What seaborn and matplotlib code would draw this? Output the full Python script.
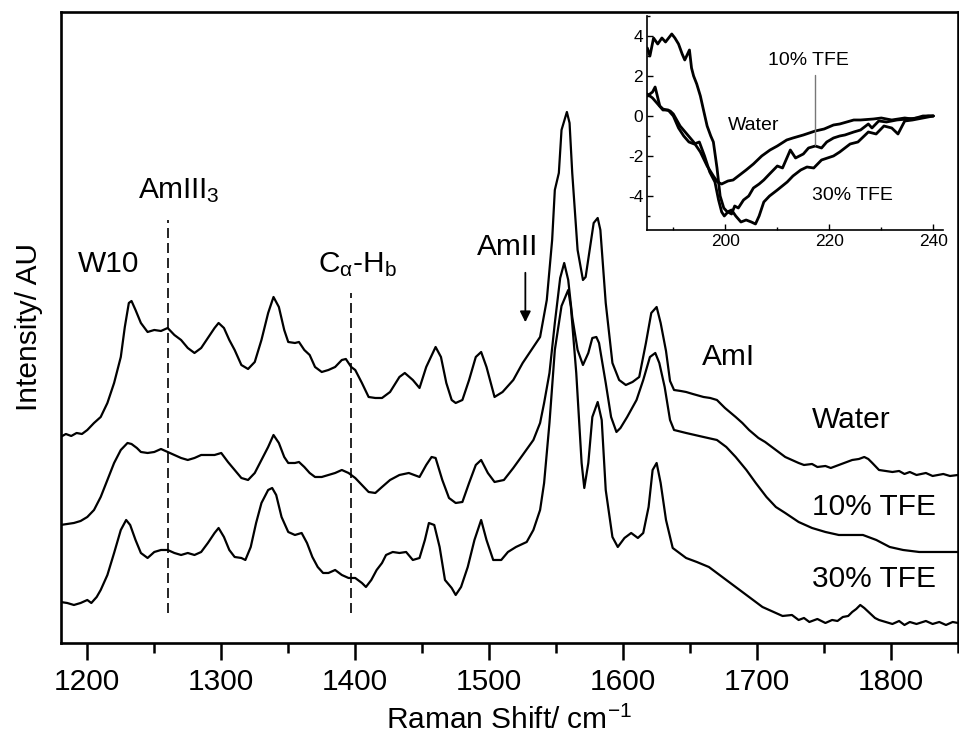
import matplotlib
matplotlib.use("Agg")
import matplotlib.pyplot as plt
from matplotlib.ticker import MultipleLocator
import seaborn as sns
import pandas as pd

# ---------------- Raman spectra (shift in cm^-1, stacked intensity in AU) ----------------
WATER = [
    (1180, 206), (1184, 209), (1188, 207), (1192, 210), (1196, 209), (1200, 213), (1205, 220),
    (1210, 226), (1215, 240), (1220, 260), (1225, 286), (1228, 316), (1231, 340), (1233, 342),
    (1236, 333), (1240, 320), (1245, 311), (1250, 313), (1255, 312), (1260, 315), (1265, 308),
    (1270, 303), (1275, 295), (1280, 290), (1285, 295), (1290, 305), (1295, 315), (1298, 320),
    (1302, 315), (1306, 303), (1310, 293), (1315, 278), (1320, 274), (1325, 281), (1330, 303),
    (1335, 330), (1339, 346), (1343, 336), (1347, 313), (1350, 301), (1355, 300), (1358, 301),
    (1362, 293), (1366, 288), (1370, 276), (1375, 271), (1380, 273), (1385, 276), (1390, 283),
    (1393, 284), (1397, 276), (1400, 273), (1405, 260), (1410, 246), (1415, 245), (1420, 245),
    (1426, 251), (1433, 266), (1437, 270), (1443, 263), (1448, 255), (1453, 276), (1460, 296),
    (1464, 286), (1468, 260), (1472, 243), (1475, 240), (1480, 243), (1485, 263), (1490, 286),
    (1494, 291), (1498, 276), (1504, 246), (1510, 251), (1518, 263), (1525, 280), (1533, 296),
    (1538, 306), (1543, 343), (1547, 403), (1549, 453), (1552, 470), (1554, 513), (1558, 531),
    (1560, 520), (1562, 470), (1566, 393), (1570, 363), (1572, 366), (1575, 393), (1578, 420),
    (1581, 425), (1583, 413), (1587, 340), (1592, 280), (1597, 263), (1602, 258), (1607, 261),
    (1612, 266), (1617, 300), (1621, 330), (1625, 336), (1628, 320), (1632, 292), (1635, 262),
    (1638, 253), (1643, 252), (1647, 251), (1652, 249), (1660, 246), (1665, 245), (1670, 243),
    (1676, 235), (1684, 226), (1689, 220), (1694, 213), (1701, 205), (1706, 201), (1711, 196),
    (1716, 191), (1721, 186), (1726, 183), (1731, 180), (1735, 178), (1741, 179), (1745, 176),
    (1751, 177), (1755, 175), (1761, 178), (1765, 180), (1771, 183), (1776, 184), (1780, 186),
    (1783, 184), (1786, 180), (1791, 173), (1796, 172), (1801, 171), (1806, 172), (1810, 169),
    (1814, 171), (1819, 168), (1826, 170), (1831, 167), (1839, 169), (1844, 167), (1850, 168),
]

TFE10 = [
    (1180, 118), (1185, 119), (1190, 120), (1195, 122), (1200, 126), (1205, 133), (1210, 146),
    (1215, 163), (1220, 180), (1225, 193), (1230, 200), (1233, 199), (1237, 195), (1240, 191),
    (1245, 190), (1250, 191), (1255, 194), (1260, 191), (1265, 188), (1270, 185), (1275, 183),
    (1280, 185), (1285, 188), (1290, 188), (1295, 188), (1300, 190), (1305, 181), (1310, 173),
    (1315, 165), (1320, 163), (1325, 170), (1330, 183), (1335, 196), (1339, 208), (1343, 200),
    (1347, 186), (1350, 180), (1355, 180), (1358, 181), (1362, 176), (1366, 170), (1370, 166),
    (1375, 166), (1380, 168), (1385, 170), (1390, 173), (1395, 170), (1400, 165), (1405, 158),
    (1410, 151), (1415, 150), (1420, 156), (1426, 163), (1433, 168), (1440, 170), (1448, 166),
    (1453, 178), (1457, 186), (1460, 185), (1465, 163), (1470, 145), (1475, 140), (1480, 141),
    (1485, 160), (1490, 178), (1494, 183), (1499, 170), (1504, 161), (1511, 163), (1518, 175),
    (1525, 188), (1533, 203), (1538, 220), (1541, 240), (1545, 270), (1549, 320), (1553, 365),
    (1556, 380), (1559, 363), (1562, 326), (1566, 293), (1570, 278), (1574, 290), (1577, 305),
    (1580, 306), (1582, 300), (1587, 260), (1591, 226), (1595, 211), (1598, 215), (1603, 226),
    (1610, 243), (1615, 263), (1620, 286), (1624, 290), (1627, 280), (1631, 256), (1635, 223),
    (1638, 213), (1647, 210), (1660, 206), (1670, 203), (1677, 196), (1684, 186), (1692, 173),
    (1699, 160), (1707, 146), (1714, 136), (1721, 130), (1731, 121), (1741, 115), (1751, 111),
    (1761, 108), (1771, 108), (1779, 108), (1789, 103), (1799, 96), (1809, 93), (1821, 91),
    (1834, 91), (1850, 91),
]

TFE30 = [
    (1180, 41), (1185, 40), (1190, 38), (1195, 40), (1200, 43), (1203, 40), (1207, 46),
    (1210, 53), (1215, 68), (1220, 90), (1225, 113), (1229, 123), (1232, 118), (1236, 103),
    (1240, 90), (1245, 85), (1250, 91), (1255, 93), (1260, 93), (1265, 90), (1270, 88),
    (1275, 90), (1280, 88), (1285, 91), (1290, 100), (1295, 110), (1298, 115), (1302, 106),
    (1306, 93), (1310, 86), (1315, 85), (1318, 83), (1322, 96), (1326, 120), (1330, 140),
    (1335, 153), (1338, 155), (1341, 148), (1345, 126), (1350, 111), (1355, 108), (1360, 110),
    (1364, 100), (1368, 86), (1372, 76), (1376, 70), (1380, 70), (1385, 73), (1390, 68),
    (1395, 65), (1400, 65), (1405, 60), (1408, 56), (1412, 63), (1416, 73), (1420, 80),
    (1423, 88), (1428, 91), (1433, 90), (1438, 91), (1443, 83), (1448, 85), (1452, 103),
    (1455, 120), (1459, 118), (1463, 96), (1467, 63), (1472, 55), (1475, 48), (1479, 56),
    (1484, 76), (1489, 103), (1494, 123), (1498, 103), (1503, 83), (1509, 83), (1514, 91),
    (1520, 96), (1528, 101), (1533, 113), (1538, 133), (1541, 160), (1545, 220), (1549, 293),
    (1554, 337), (1559, 353), (1561, 336), (1565, 270), (1569, 180), (1571, 155), (1574, 180),
    (1577, 226), (1581, 241), (1584, 223), (1587, 153), (1592, 106), (1596, 96), (1601, 105),
    (1606, 110), (1611, 105), (1615, 110), (1619, 136), (1622, 173), (1625, 180), (1628, 160),
    (1632, 123), (1637, 95), (1641, 91), (1647, 85), (1655, 81), (1664, 76), (1674, 66),
    (1684, 56), (1694, 46), (1704, 36), (1714, 30), (1719, 27), (1726, 28), (1731, 23),
    (1735, 25), (1739, 21), (1745, 24), (1751, 20), (1756, 23), (1760, 22), (1764, 26),
    (1768, 27), (1771, 31), (1774, 34), (1777, 38), (1780, 35), (1784, 30), (1788, 25),
    (1791, 23), (1796, 21), (1801, 19), (1806, 22), (1810, 18), (1814, 21), (1819, 19),
    (1826, 22), (1831, 19), (1836, 21), (1841, 18), (1846, 21), (1850, 20),
]

SPECTRA_LABELS = ["Water", "10% TFE", "30% TFE"]
X_TICKS = [1200, 1300, 1400, 1500, 1600, 1700, 1800]

# ---------------- CD spectra for the inset (wavelength in nm, ellipticity) ----------------
CD_WATER = [
    (185, 1.0), (186, 1.2), (186.5, 1.45), (187.4, 0.5), (188, 0.35), (189.4, 0.25), (190, 0.1),
    (191.3, -0.5), (192.6, -0.9), (193.9, -1.3), (195.2, -1.8), (196.5, -2.5), (197.7, -3.0),
    (198.5, -3.3), (199.3, -3.4), (200.5, -3.25), (201.5, -3.2), (203, -2.9), (204, -2.7),
    (205.4, -2.4), (207, -2.0), (208.6, -1.7), (210, -1.5), (211.8, -1.2), (213, -1.1),
    (215, -0.95), (217.3, -0.75), (219, -0.65), (220.8, -0.45), (222, -0.4), (224.7, -0.2),
    (226, -0.2), (228.5, -0.15), (230, -0.1), (232, -0.2), (234.5, -0.1), (236, -0.15),
    (238, 0.0), (240, 0.0),
]
CD_TFE10 = [
    (185, 1.1), (186, 0.9), (187, 0.6), (188, 0.3), (189, 0.3), (190, 0.0), (191, -0.6),
    (192, -1.0), (193, -1.3), (194, -1.4), (195, -1.3), (196, -2.0), (197, -2.8), (198, -3.3),
    (198.7, -4.2), (199.3, -4.8), (199.8, -5.0), (200.5, -4.8), (201.2, -4.9), (201.8, -4.5),
    (202.5, -4.6), (203.5, -4.2), (204.5, -4.0), (205.4, -3.6), (206.5, -3.4), (207.4, -3.2),
    (208.5, -2.9), (210, -2.5), (211, -2.6), (212, -2.0), (212.5, -1.7), (213.5, -2.1),
    (215, -1.9), (216, -1.6), (217.3, -1.5), (218.5, -1.6), (219.5, -1.3), (220.8, -1.1),
    (222, -1.0), (223, -0.95), (224.7, -0.8), (226, -0.7), (227.5, -0.4), (228.2, -0.6),
    (229.5, -0.25), (231, -0.3), (233, -0.2), (235, -0.15), (237, -0.1), (239, 0.0), (240, 0.0),
]
CD_TFE30 = [
    (185, 3.4), (185.5, 3.0), (186.2, 3.9), (187, 3.6), (187.8, 3.9), (188.5, 3.7), (189.7, 4.1),
    (190.3, 3.9), (191, 3.6), (191.7, 3.1), (192.2, 2.8), (193.1, 3.3), (193.5, 2.4), (193.9, 2.0),
    (194.5, 1.6), (195.2, 1.0), (195.8, 0.3), (196.5, -0.5), (197.2, -1.0), (197.7, -1.3),
    (198.4, -2.6), (199.0, -4.0), (199.7, -4.6), (200.4, -4.8), (201.2, -4.7), (202, -5.0),
    (203, -5.3), (204, -5.2), (205, -5.3), (205.8, -5.4), (206.5, -5.0), (207.4, -4.3),
    (208.5, -4.0), (210, -3.7), (211.9, -3.3), (213, -3.0), (214.5, -2.7), (215.7, -2.55),
    (217, -2.6), (218.5, -2.2), (220.8, -2.0), (222, -1.8), (224, -1.4), (225.5, -1.3),
    (227.5, -0.8), (229, -0.9), (230.5, -0.5), (232, -0.6), (233.2, -0.9), (234.5, -0.25),
    (236, -0.2), (238, -0.1), (240, 0.0),
]
INSET_X_TICKS = [200, 220, 240]
INSET_Y_TICKS = [-4, -2, 0, 2, 4]


def to_frame(pairs, name):
    df = pd.DataFrame(pairs, columns=["x", "y"])
    df["series"] = name
    return df


sns.set_theme(style="white")
plt.rcParams["font.family"] = ["Liberation Sans", "DejaVu Sans"]
plt.rcParams["mathtext.fontset"] = "custom"
plt.rcParams["mathtext.rm"] = "Liberation Sans"
plt.rcParams["mathtext.it"] = "Liberation Sans:italic"
plt.rcParams["mathtext.default"] = "regular"
plt.rcParams["axes.unicode_minus"] = False
plt.rcParams["text.color"] = "black"
plt.rcParams["axes.labelcolor"] = "black"
plt.rcParams["xtick.color"] = "black"
plt.rcParams["ytick.color"] = "black"

fig = plt.figure(figsize=(9.59, 7.40), dpi=100)
fig.patch.set_facecolor("white")

# ---------------- main Raman panel ----------------
ax = fig.add_axes([0.0631, 0.1311, 0.9359, 0.8527])
raman = pd.concat([to_frame(WATER, SPECTRA_LABELS[0]),
                   to_frame(TFE10, SPECTRA_LABELS[1]),
                   to_frame(TFE30, SPECTRA_LABELS[2])])
for name, grp in raman.groupby("series", sort=False):
    sns.lineplot(data=grp, x="x", y="y", ax=ax, color="black", lw=1.6,
                 estimator=None, sort=False, legend=False)

ax.set_xlim(1180, 1850)
ax.set_ylim(0, 631)
ax.set_xticks(X_TICKS)
ax.xaxis.set_minor_locator(MultipleLocator(50))
ax.set_yticks([])
ax.tick_params(axis="x", which="major", direction="out", length=12, width=1.8,
               labelsize=21.5, pad=6, colors="black", bottom=True)
ax.tick_params(axis="x", which="minor", direction="out", length=7, width=1.8,
               colors="black", bottom=True)
for s in ax.spines.values():
    s.set_linewidth(1.9)
    s.set_color("black")

ax.set_xlabel("Raman Shift/ cm$^{-1}$", fontsize=21.5, color="black")
ax.xaxis.set_label_coords(0.5, -0.122)
ax.xaxis.label.set_va("center")
ax.set_ylabel("Intensity/ AU", fontsize=21.5, color="black")
ax.yaxis.set_label_coords(-0.035, 0.5)
ax.yaxis.label.set_va("center")

# band markers
dash = (0, (6, 3))
ax.plot([1260, 1260], [30, 423], color="black", lw=1.2, linestyle=dash)
ax.plot([1397, 1397], [30, 350], color="black", lw=1.2, linestyle=dash)
ax.annotate("", xy=(1527, 318), xytext=(1527, 373),
            arrowprops=dict(arrowstyle="-|>", color="black", lw=1.3, mutation_scale=16))

fs = 21.5
ax.text(1216, 371, "W10", fontsize=fs, ha="center", va="baseline", color="black")
ax.text(1237.5, 445, "AmIII$_3$", fontsize=fs, ha="left", va="baseline", color="black")
ax.text(1372, 371, r"C$_\alpha$-H$_b$", fontsize=fs, ha="left", va="baseline", color="black")
ax.text(1491, 388, "AmII", fontsize=fs, ha="left", va="baseline", color="black")
ax.text(1659, 278, "AmI", fontsize=fs, ha="left", va="baseline", color="black")
for label, yb in zip(SPECTRA_LABELS, [215, 128, 56]):
    ax.text(1741, yb, label, fontsize=fs, ha="left", va="baseline", color="black")

# ---------------- CD inset ----------------
axin = fig.add_axes([0.675, 0.6892, 0.308, 0.2892])
axin.patch.set_alpha(0)
cd = pd.concat([to_frame(CD_WATER, "Water"),
                to_frame(CD_TFE10, "10% TFE"),
                to_frame(CD_TFE30, "30% TFE")])
for name, grp in cd.groupby("series", sort=False):
    sns.lineplot(data=grp, x="x", y="y", ax=axin, color="black", lw=2.0,
                 estimator=None, sort=False, legend=False)
axin.plot([217.3, 217.3], [2.05, -1.45], color="#777777", lw=1.0)

axin.set_xlim(185, 241.8)
axin.set_ylim(-5.7, 5.0)
axin.set_xticks(INSET_X_TICKS)
axin.set_yticks(INSET_Y_TICKS)
axin.xaxis.set_minor_locator(MultipleLocator(10))
axin.yaxis.set_minor_locator(MultipleLocator(1))
axin.tick_params(which="major", direction="in", length=4, width=1.0, labelsize=12.5,
                 left=True, bottom=True, pad=3, colors="black")
axin.tick_params(which="minor", direction="in", length=2.5, width=1.0, left=True,
                 bottom=True, colors="black")
axin.set_xlabel("")
axin.set_ylabel("")
axin.spines["top"].set_visible(False)
axin.spines["right"].set_visible(False)
for side in ("left", "bottom"):
    axin.spines[side].set_linewidth(1.2)
    axin.spines[side].set_color("black")

axin.text(208.3, 2.55, "10% TFE", fontsize=14, ha="left", va="baseline", color="black")
axin.text(200.4, -0.7, "Water", fontsize=14, ha="left", va="baseline", color="black")
axin.text(216.7, -4.2, "30% TFE", fontsize=14, ha="left", va="baseline", color="black")

fig.savefig("out.png", dpi=100, facecolor="white")
